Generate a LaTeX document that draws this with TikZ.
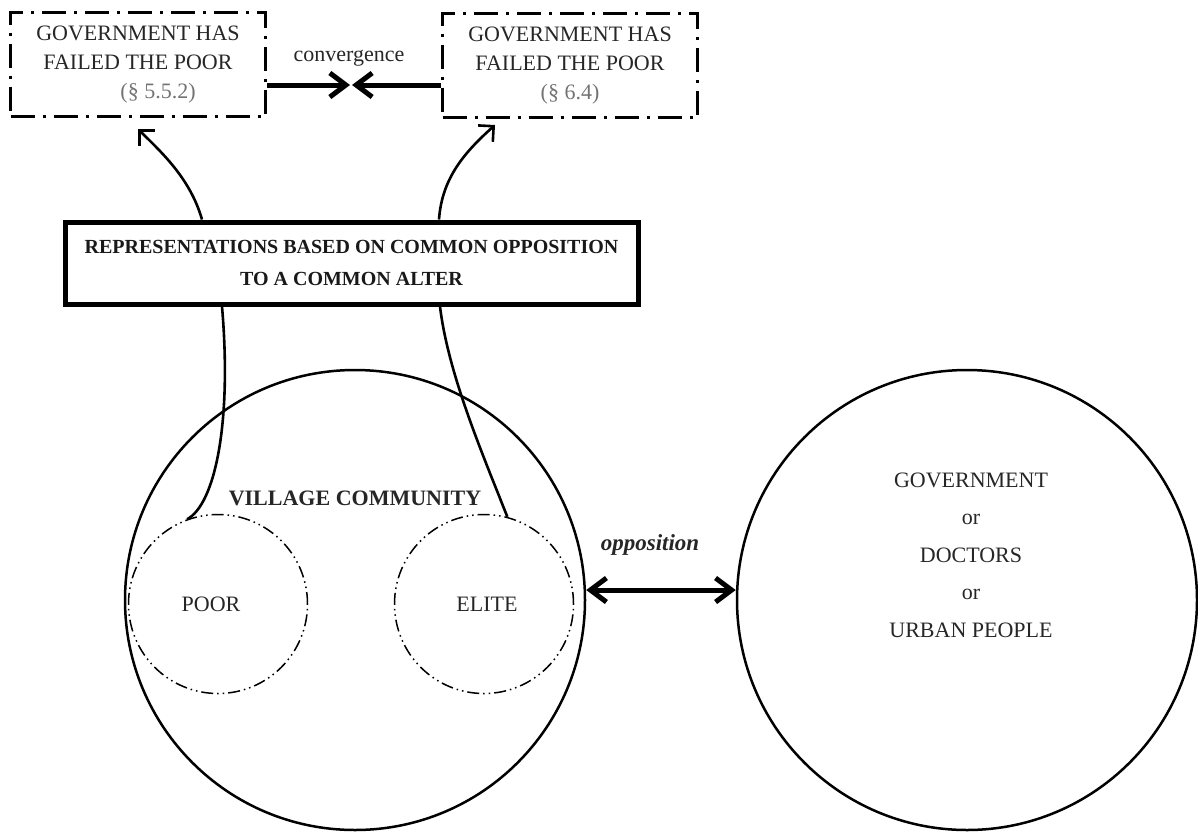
\documentclass[tikz,border=0pt]{standalone}
\usepackage{fontspec}
\setmainfont{Liberation Serif}
\usetikzlibrary{arrows.meta}

\begin{document}
\begin{tikzpicture}[x=1pt,y=-1pt]
        \tikzstyle{govbox}=[rectangle,draw=black,line width=3pt,dash pattern=on 24pt off 8pt on 3pt off 8pt,minimum width=255pt,minimum height=104pt,align=center,text=black!85,font=\fontsize{22}{29}\selectfont]
        \tikzstyle{repbox}=[rectangle,draw=black,line width=5pt,minimum width=573pt,minimum height=82pt,align=center,text=black!90,font=\bfseries\fontsize{20}{32}\selectfont]
        \tikzstyle{bigcircle}=[circle,draw=black,line width=2.5pt,minimum size=460pt,inner sep=0pt]
        \tikzstyle{subgroup}=[circle,draw=black,line width=1.5pt,dash pattern=on 12pt off 4pt on 1.5pt off 4pt on 1.5pt off 4pt,minimum size=179pt,inner sep=0pt,text=black!85,font=\fontsize{22}{26}\selectfont]
        \tikzstyle{caption}=[text=black!85,font=\fontsize{22}{26}\selectfont]
        \tikzstyle{link}=[draw,line width=2.6pt]
        \tikzstyle{linkarrow}=[link,-{Straight Barb[length=11pt,width=22pt]}]
        \tikzstyle{heavy}=[draw,line width=5pt,-{Straight Barb[length=16pt,width=24pt]}]
        \useasboundingbox (0,0) rectangle (1198,833);
        \node [govbox] (gov1) at (138,64.5) {GOVERNMENT HAS\\FAILED THE POOR\\\hspace*{40pt}{\color{black!55}(§ 5.5.2)}};
        \node [govbox] (gov2) at (570,65.5) {GOVERNMENT HAS\\FAILED THE POOR\\{\color{black!55}(§ 6.4)}};
        \coordinate (meet) at (351,85);
        \node [caption] (conv) at (349,58) {convergence};
        \path [heavy] (gov1.east |- meet) -- ([xshift=-1pt]meet);
        \path [heavy] (gov2.west |- meet) -- ([xshift=1pt]meet);
        \node [repbox] (rep) at (351.5,263) {REPRESENTATIONS BASED ON COMMON OPPOSITION\\TO A COMMON ALTER};
        \node [bigcircle] (village) at (355,600) {};
        \node [caption,font=\bfseries\fontsize{22}{26}\selectfont] (vlabel) at (355,498) {VILLAGE COMMUNITY};
        \node [subgroup] (poor) at (218,604) {\hspace*{-14pt}POOR};
        \node [subgroup] (elite) at (484,604) {\hspace*{6pt}ELITE};
        \node [bigcircle] (alter) at (967,600) {};
        \node [caption,align=center,font=\fontsize{22}{37.5}\selectfont] (others) at (971,555) {GOVERNMENT\\or\\DOCTORS\\or\\URBAN PEOPLE};
        \node [caption,font=\bfseries\itshape\fontsize{23}{26}\selectfont] (opp) at (650,545) {opposition};
        \path [heavy,{Straight Barb[length=16pt,width=24pt]}-{Straight Barb[length=16pt,width=24pt]}] ([yshift=10pt]village.east) -- ([yshift=10pt]alter.west);
        \path [link] (poor.110) .. controls +(28,-15) and +(10,116) .. ([xshift=-129.5pt]rep.south);
        \path [link] (elite.75) .. controls +(-27,-68) and +(8,66) .. ([xshift=88.5pt]rep.south);
        \path [linkarrow] ([xshift=-149.5pt]rep.north) .. controls +(-12,-42) and +(22,22) .. ([yshift=-11pt]gov1.south);
        \path [linkarrow] ([xshift=87.5pt]rep.north) .. controls +(3,-42) and +(-30,27) .. ([xshift=-75pt,yshift=-6pt]gov2.south);
\end{tikzpicture}
\end{document}
